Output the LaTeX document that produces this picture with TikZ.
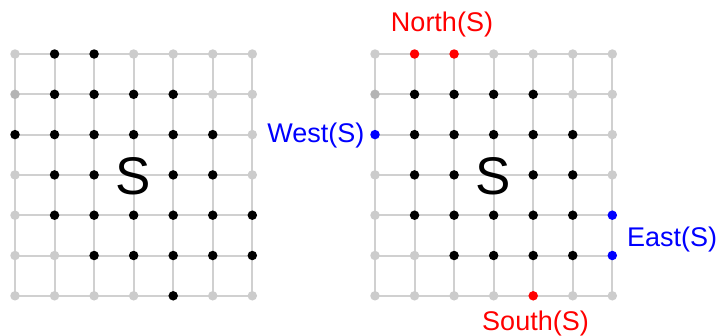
\documentclass[tikz,border=0pt]{standalone}
\usepackage{fontspec}
\setmainfont{Liberation Sans}
\definecolor{cg}{HTML}{CCCCCC}
\definecolor{cd}{HTML}{B4B4B4}
\definecolor{ck}{HTML}{000000}
\definecolor{cr}{HTML}{FF0000}
\definecolor{cb}{HTML}{0000FF}
\definecolor{linegray}{HTML}{D0D0D0}
\begin{document}
\begin{tikzpicture}[x=1pt,y=-1pt,
  gridline/.style={draw=linegray,line width=2pt},
  dot/.style={circle,inner sep=0pt,minimum size=9.5pt},
  biglabel/.style={inner sep=0pt,anchor=base,font=\fontsize{53}{60}\selectfont},
  sidelabel/.style={inner sep=0pt,font=\fontsize{27}{30}\selectfont}]
\useasboundingbox (0,0) rectangle (718,335);
% grid coordinates
\foreach \g/\xo in {L/15,R/375}{
  \foreach \r in {0,...,6}{
    \foreach \c in {0,...,6}{
      \coordinate (\g-\r-\c) at ({\xo+39.55*\c},{54+40.3*\r});
    }
  }
}
% grid lines
\foreach \g in {L,R}{
  \foreach \i in {0,...,6}{
    \draw[gridline] (\g-\i-0) -- (\g-\i-6);
    \draw[gridline] (\g-0-\i) -- (\g-6-\i);
  }
}
% left dots
\foreach \r/\pat in {
  0/{cg,ck,ck,cg,cg,cg,cg},
  1/{cd,ck,ck,ck,ck,cg,cg},
  2/{ck,ck,ck,ck,ck,ck,cg},
  3/{cg,ck,ck,none,ck,ck,cg},
  4/{cg,ck,ck,ck,ck,ck,ck},
  5/{cg,cg,ck,ck,ck,ck,ck},
  6/{cg,cg,cg,cg,ck,cg,cg}}{
  \foreach \col [count=\c from 0] in \pat {
    \node[dot,fill=\col] (Ld-\r-\c) at (L-\r-\c) {};
  }
}
% right dots
\foreach \r/\pat in {
  0/{cg,cr,cr,cg,cg,cg,cg},
  1/{cd,ck,ck,ck,ck,cg,cg},
  2/{cb,ck,ck,ck,ck,ck,cg},
  3/{cg,ck,ck,none,ck,ck,cg},
  4/{cg,ck,ck,ck,ck,ck,cb},
  5/{cg,cg,ck,ck,ck,ck,cb},
  6/{cg,cg,cg,cg,cr,cg,cg}}{
  \foreach \col [count=\c from 0] in \pat {
    \node[dot,fill=\col] (Rd-\r-\c) at (R-\r-\c) {};
  }
}
% big S labels
\node[biglabel] (SL) at (133,194) {S};
\node[biglabel] (SR) at (493,194) {S};
% side labels
\node[sidelabel,text=cr,anchor=base] (north) at (442,31.5) {North(S)};
\node[sidelabel,text=cb,anchor=base east] (west) at (364.5,142.5) {West(S)};
\node[sidelabel,text=cb,anchor=base west] (east) at (627,246.5) {East(S)};
\node[sidelabel,text=cr,anchor=base] (south) at (535.5,330) {South(S)};
\end{tikzpicture}
\end{document}
